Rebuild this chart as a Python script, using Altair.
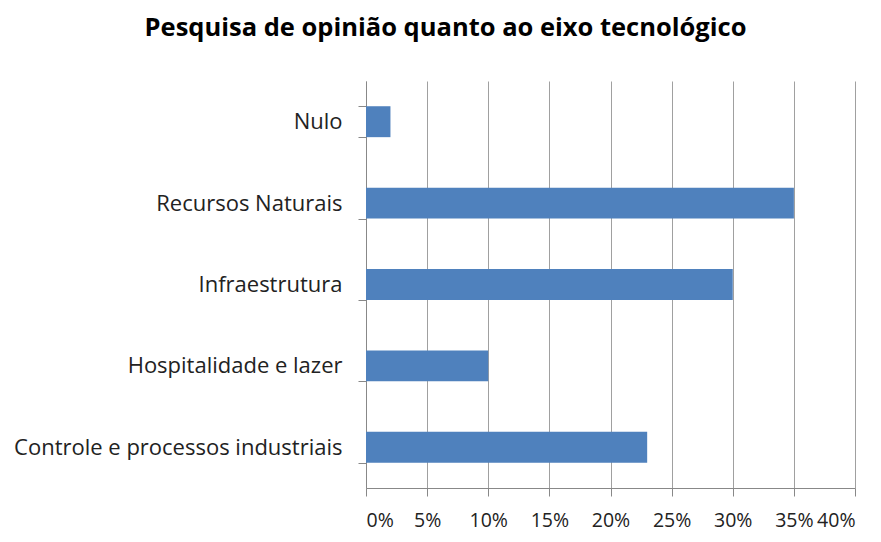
import altair as alt
import pandas as pd

categories = ["Nulo", "Recursos Naturais", "Infraestrutura", "Hospitalidade e lazer", "Controle e processos industriais"]
values = [0.02, 0.35, 0.30, 0.10, 0.23]
tick_values = [0, 0.05, 0.10, 0.15, 0.20, 0.25, 0.30, 0.35, 0.40]

df = pd.DataFrame({"categoria": categories, "valor": values})

FONT = "Open Sans"

chart = alt.Chart(df).mark_bar(color="#4F81BD").encode(
    x=alt.X("valor:Q",
            scale=alt.Scale(domain=[0, 0.4], nice=False),
            axis=alt.Axis(values=tick_values, format=".0%", title=None,
                          grid=True, gridColor="#A0A0A0", gridWidth=1,
                          domainColor="#888888", tickColor="#888888", tickSize=8,
                          labelFont=FONT, labelFontSize=19.5, labelColor="#222222",
                          labelOverlap=False, labelPadding=15)),
    y=alt.Y("categoria:N", sort=categories,
            scale=alt.Scale(paddingInner=0.62, paddingOuter=0.31),
            axis=alt.Axis(title=None, grid=False, tickBand="extent",
                          domainColor="#888888", tickColor="#888888", tickSize=8,
                          labelFont=FONT, labelFontSize=22, labelColor="#222222",
                          labelPadding=16, labelLimit=400)),
).properties(
    width=489,
    height=407,
    title=alt.TitleParams("Pesquisa de opinião quanto ao eixo tecnológico",
                          font=FONT, fontSize=25.5, fontWeight="bold", color="#000000",
                          anchor="middle", dx=-165, offset=29),
    autosize=alt.AutoSizeParams(type="none"),
    padding={"left": 358, "top": 73, "right": 18, "bottom": 46},
).configure_view(stroke=None)

chart.save("out.html", embed_options={"renderer": "svg", "actions": False})
